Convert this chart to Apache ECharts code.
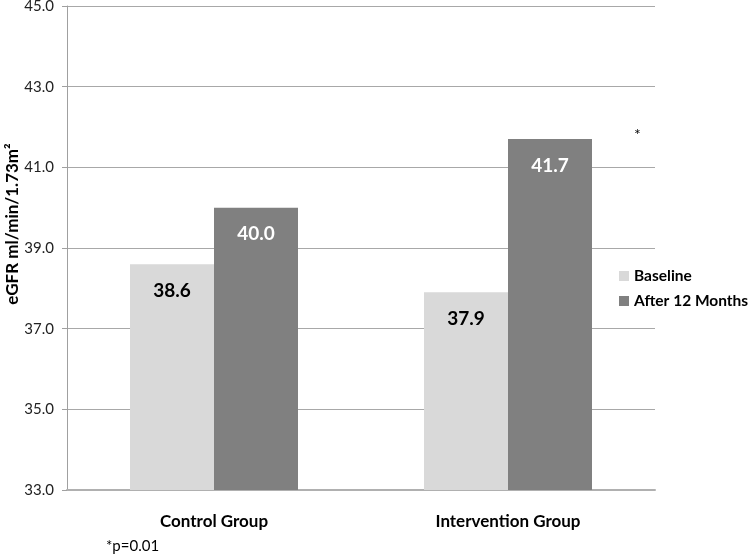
<!DOCTYPE html>
<html>
<head>
<meta charset="utf-8">
<script src="https://cdn.jsdelivr.net/npm/echarts@6/dist/echarts.min.js"></script>
<style>
html,body{margin:0;padding:0;background:#fff;}
#c{width:749px;height:558px;}
</style>
</head>
<body>
<div id="c"></div>
<script>
const categories = ['Control Group', 'Intervention Group'];
const baseline = [38.6, 37.9];
const after12 = [40.0, 41.7];
const seriesNames = ['Baseline', 'After 12 Months'];
const yTicks = [33, 35, 37, 39, 41, 43, 45];

const FONT = 'Lato';
const chart = echarts.init(document.getElementById('c'));
chart.setOption({
  animation: false,
  textStyle: { fontFamily: FONT },
  grid: { left: 67, right: 94, top: 6, bottom: 68, containLabel: false, outerBoundsMode: 'none' },
  legend: {
    orient: 'vertical',
    left: 614,
    top: 263,
    itemWidth: 10,
    itemHeight: 10,
    itemGap: 9,
    icon: 'rect',
    textStyle: { fontFamily: FONT, fontSize: 15.5, fontWeight: 'bold', color: '#000' },
    data: seriesNames
  },
  xAxis: {
    type: 'category',
    data: categories,
    axisLine: { lineStyle: { color: '#b0b0b0', width: 2 } },
    axisTick: { show: false },
    axisLabel: { fontFamily: FONT, fontSize: 17, fontWeight: 'bold', color: '#000', margin: 23 }
  },
  yAxis: {
    type: 'value',
    min: yTicks[0],
    max: yTicks[yTicks.length - 1],
    interval: 2,
    name: 'eGFR ml/min/1.73m²',
    nameLocation: 'middle',
    nameGap: 46,
    nameMoveOverlap: false,
    nameTextStyle: { fontFamily: FONT, fontSize: 17, fontWeight: 'bold', color: '#000', padding: [0, 0, 0, 48] },
    axisLine: { show: true, lineStyle: { color: '#a0a0a0' } },
    axisTick: { show: true, length: 5, inside: false, lineStyle: { color: '#a0a0a0' } },
    axisLabel: { fontFamily: FONT, fontSize: 15, color: '#222', margin: 13, formatter: v => v.toFixed(1) },
    splitLine: { lineStyle: { color: '#a8a8a8' } }
  },
  series: [
    {
      name: seriesNames[0], type: 'bar', data: baseline,
      barWidth: 84, barGap: '0%',
      itemStyle: { color: '#d9d9d9' },
      label: { show: true, position: 'insideTop', distance: 17, fontFamily: FONT, fontSize: 19, fontWeight: 'bold', color: '#000', formatter: p => p.value.toFixed(1) }
    },
    {
      name: seriesNames[1], type: 'bar', data: after12,
      barWidth: 84,
      itemStyle: { color: '#808080' },
      label: { show: true, position: 'insideTop', distance: 17, fontFamily: FONT, fontSize: 19, fontWeight: 'bold', color: '#fff', formatter: p => p.value.toFixed(1) }
    }
  ],
  graphic: [
    { type: 'text', left: 634, top: 127, style: { text: '*', fontFamily: FONT, fontSize: 16, fill: '#000' } },
    { type: 'text', left: 106, top: 539, style: { text: '*p=0.01', fontFamily: FONT, fontSize: 15, fill: '#000' } }
  ]
});
</script>
</body>
</html>
